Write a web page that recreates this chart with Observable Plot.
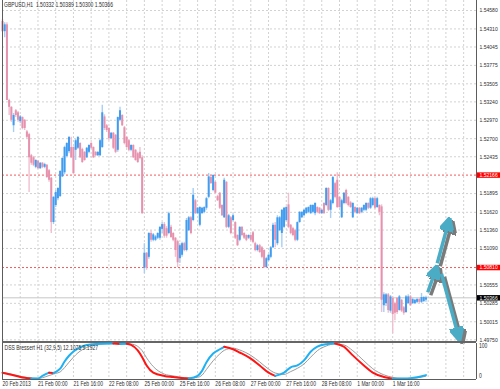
<!DOCTYPE html>
<html><head><meta charset="utf-8">
<script src="https://cdn.jsdelivr.net/npm/d3@7"></script>
<script src="https://cdn.jsdelivr.net/npm/@observablehq/plot@0.6"></script>
<style>
html,body{margin:0;padding:0;background:#fff;overflow:hidden;}
#chart{position:relative;width:500px;height:389px;overflow:hidden;background:#fff;}
#chart svg{position:absolute;overflow:visible;}
</style></head><body><div id="chart"></div>
<script>
const FONT = '"Liberation Sans", Arial, sans-serif';
const FS = 6.3;        // font size of chart texts
const FS_AXIS = 5.8;   // font size of the price scale texts (narrow right strip)
const SQUEEZE = 0.8;   // the reference font is a narrow one

const symbol = "GBPUSD,H1";
const timeLabels = ["20 Feb 2013","21 Feb 00:00","21 Feb 16:00","22 Feb 08:00","25 Feb 00:00","25 Feb 16:00","26 Feb 08:00","27 Feb 00:00","27 Feb 16:00","28 Feb 08:00","1 Mar 00:00","1 Mar 16:00"];
const timeLabelBars = [0,16,32,48,64,80,96,112,128,144,160,176];
const priceTicks = [1.54580,1.54310,1.54045,1.53775,1.53505,1.53240,1.52970,1.52700,1.52435,1.51895,1.51620,1.51360,1.51090,1.50555,1.50285,1.50015,1.49750];
const levelLines = [1.52166, 1.50810];

const open = [1.5442,1.5427,1.5437,1.5326,1.5316,1.5289,1.5311,1.5308,1.5295,1.5301,1.5297,1.5280,1.5276,1.5245,1.5242,1.5228,1.5237,1.5226,1.5234,1.5228,
1.5231,1.5223,1.5212,1.5147,1.5172,1.5182,1.5185,1.5214,1.5220,1.5244,1.5251,1.5257,1.5257,1.5253,1.5256,1.5263,1.5254,1.5250,1.5242,1.5250,
1.5263,1.5257,1.5250,1.5245,1.5245,1.5257,1.5302,1.5289,1.5285,1.5270,1.5278,1.5275,1.5253,1.5297,1.5304,1.5286,1.5272,1.5267,1.5253,1.5260,
1.5253,1.5248,1.5250,1.5242,1.5080,1.5102,1.5096,1.5131,1.5121,1.5121,1.5124,1.5124,1.5137,1.5144,1.5138,1.5131,1.5140,1.5131,1.5124,1.5119,
1.5094,1.5099,1.5116,1.5106,1.5135,1.5154,1.5150,1.5179,1.5160,1.5143,1.5160,1.5162,1.5168,1.5184,1.5213,1.5194,1.5206,1.5185,1.5190,1.5172,
1.5154,1.5206,1.5140,1.5154,1.5150,1.5147,1.5128,1.5121,1.5140,1.5131,1.5128,1.5124,1.5128,1.5132,1.5116,1.5106,1.5113,1.5110,1.5106,1.5081,
1.5091,1.5096,1.5110,1.5143,1.5116,1.5135,1.5131,1.5140,1.5150,1.5173,1.5143,1.5138,1.5135,1.5121,1.5147,1.5154,1.5157,1.5160,1.5162,1.5160,
1.5162,1.5160,1.5169,1.5168,1.5160,1.5175,1.5172,1.5197,1.5165,1.5175,1.5204,1.5209,1.5184,1.5154,1.5175,1.5194,1.5184,1.5176,1.5154,1.5169,
1.5160,1.5168,1.5162,1.5165,1.5165,1.5175,1.5168,1.5172,1.5182,1.5169,1.5172,1.5170,1.5025,1.5028,1.5041,1.5017,1.5036,1.5028,1.5036,1.5018,
1.5033,1.5022,1.5015,1.5028,1.5038,1.5028,1.5028,1.5030,1.5034,1.5030,1.5031,1.50332];
const high = [1.5445,1.5440,1.5440,1.5328,1.5317,1.5307,1.5313,1.5310,1.5304,1.5302,1.5298,1.5282,1.5278,1.5247,1.5244,1.5239,1.5238,1.5235,1.5235,1.5234,
1.5232,1.5225,1.5213,1.5185,1.5194,1.5198,1.5223,1.5242,1.5259,1.5264,1.5273,1.5272,1.5258,1.5269,1.5273,1.5264,1.5256,1.5251,1.5257,1.5261,
1.5264,1.5258,1.5251,1.5251,1.5269,1.5319,1.5305,1.5291,1.5286,1.5279,1.5279,1.5276,1.5302,1.5316,1.5305,1.5288,1.5273,1.5269,1.5261,1.5261,
1.5254,1.5250,1.5257,1.5245,1.5116,1.5103,1.5132,1.5135,1.5131,1.5128,1.5132,1.5141,1.5147,1.5147,1.5141,1.5162,1.5143,1.5132,1.5125,1.5121,
1.5116,1.5118,1.5118,1.5153,1.5156,1.5156,1.5197,1.5181,1.5169,1.5170,1.5169,1.5170,1.5184,1.5219,1.5215,1.5217,1.5207,1.5187,1.5191,1.5173,
1.5212,1.5207,1.5159,1.5156,1.5159,1.5148,1.5129,1.5141,1.5141,1.5132,1.5129,1.5129,1.5129,1.5134,1.5118,1.5115,1.5115,1.5112,1.5107,1.5096,
1.5100,1.5112,1.5146,1.5147,1.5157,1.5156,1.5166,1.5169,1.5170,1.5190,1.5144,1.5140,1.5137,1.5148,1.5163,1.5163,1.5166,1.5169,1.5170,1.5173,
1.5173,1.5176,1.5170,1.5169,1.5166,1.5176,1.5198,1.5198,1.5181,1.5215,1.5206,1.5220,1.5185,1.5181,1.5191,1.5196,1.5185,1.5178,1.5176,1.5170,
1.5169,1.5169,1.5169,1.5173,1.5176,1.5176,1.5184,1.5184,1.5184,1.5184,1.5173,1.5173,1.5044,1.5043,1.5043,1.5040,1.5038,1.5030,1.5037,1.5040,
1.5034,1.5024,1.5040,1.5041,1.5040,1.5036,1.5034,1.5036,1.5036,1.5043,1.5038,1.50389];
const low = [1.5426,1.5418,1.5326,1.5304,1.5294,1.5279,1.5301,1.5294,1.5292,1.5283,1.5282,1.5270,1.5191,1.5231,1.5229,1.5226,1.5225,1.5225,1.5226,1.5226,
1.5212,1.5206,1.5131,1.5144,1.5169,1.5179,1.5184,1.5213,1.5217,1.5242,1.5248,1.5241,1.5217,1.5238,1.5254,1.5241,1.5234,1.5237,1.5241,1.5248,
1.5254,1.5241,1.5244,1.5244,1.5244,1.5256,1.5282,1.5279,1.5267,1.5269,1.5254,1.5248,1.5250,1.5295,1.5288,1.5261,1.5256,1.5251,1.5251,1.5241,
1.5237,1.5234,1.5239,1.5159,1.5072,1.5077,1.5093,1.5118,1.5119,1.5119,1.5122,1.5121,1.5131,1.5124,1.5124,1.5129,1.5124,1.5119,1.5096,1.5081,
1.5087,1.5096,1.5104,1.5104,1.5134,1.5129,1.5148,1.5159,1.5159,1.5141,1.5159,1.5160,1.5165,1.5182,1.5203,1.5192,1.5188,1.5178,1.5166,1.5156,
1.5153,1.5138,1.5138,1.5129,1.5148,1.5122,1.5112,1.5119,1.5126,1.5122,1.5119,1.5122,1.5119,1.5116,1.5104,1.5104,1.5102,1.5094,1.5080,1.5080,
1.5090,1.5094,1.5109,1.5110,1.5113,1.5134,1.5110,1.5138,1.5148,1.5138,1.5129,1.5126,1.5119,1.5119,1.5146,1.5153,1.5156,1.5159,1.5160,1.5159,
1.5160,1.5157,1.5160,1.5159,1.5159,1.5159,1.5170,1.5163,1.5153,1.5173,1.5182,1.5168,1.5168,1.5153,1.5173,1.5173,1.5170,1.5168,1.5153,1.5160,
1.5159,1.5159,1.5160,1.5163,1.5163,1.5166,1.5166,1.5170,1.5166,1.5168,1.5157,1.5015,1.5015,1.5024,1.5014,1.5014,1.4984,1.5003,1.5012,1.5017,
1.5015,1.5011,1.5014,1.5027,1.5024,1.5027,1.5027,1.5028,1.5028,1.5028,1.5030,1.50300];
const close = [1.5427,1.5437,1.5326,1.5316,1.5297,1.5304,1.5304,1.5297,1.5302,1.5285,1.5285,1.5272,1.5242,1.5234,1.5231,1.5238,1.5226,1.5234,1.5228,1.5232,
1.5213,1.5209,1.5147,1.5184,1.5191,1.5197,1.5222,1.5241,1.5257,1.5263,1.5272,1.5242,1.5219,1.5267,1.5272,1.5242,1.5235,1.5238,1.5256,1.5260,
1.5256,1.5242,1.5245,1.5250,1.5267,1.5308,1.5285,1.5282,1.5270,1.5278,1.5256,1.5250,1.5301,1.5311,1.5289,1.5263,1.5257,1.5253,1.5260,1.5242,
1.5238,1.5235,1.5241,1.5160,1.5102,1.5080,1.5131,1.5121,1.5129,1.5126,1.5131,1.5140,1.5144,1.5127,1.5127,1.5160,1.5125,1.5121,1.5106,1.5088,
1.5113,1.5116,1.5106,1.5150,1.5154,1.5131,1.5187,1.5160,1.5168,1.5169,1.5168,1.5169,1.5182,1.5214,1.5204,1.5216,1.5190,1.5179,1.5168,1.5157,
1.5209,1.5140,1.5157,1.5131,1.5157,1.5124,1.5113,1.5140,1.5128,1.5124,1.5121,1.5128,1.5121,1.5118,1.5106,1.5113,1.5103,1.5096,1.5081,1.5094,
1.5099,1.5110,1.5143,1.5121,1.5154,1.5154,1.5165,1.5168,1.5169,1.5140,1.5131,1.5128,1.5121,1.5147,1.5162,1.5162,1.5165,1.5168,1.5169,1.5172,
1.5172,1.5175,1.5162,1.5160,1.5165,1.5160,1.5197,1.5165,1.5179,1.5213,1.5184,1.5169,1.5169,1.5179,1.5190,1.5175,1.5172,1.5169,1.5175,1.5162,
1.5168,1.5160,1.5168,1.5172,1.5175,1.5168,1.5182,1.5182,1.5168,1.5182,1.5162,1.5033,1.5041,1.5041,1.5018,1.5038,1.5012,1.5014,1.5015,1.5038,
1.5017,1.5014,1.5038,1.5038,1.5025,1.5034,1.5033,1.5034,1.5030,1.5037,1.5037,1.50366];

const dssName = "DSS Bressert H1 (32,9,5)";
const dssBars   = [0,4,8,13,16,18,21,23,24,26,28,30,32,34,38,44,50,53,56,58,61,63,65,68,73,77,82,84,88,90,92,95,98,100,104,107,112,116,120,123,127,130,133,136,139,142,146,150,154,158,163,167,172,176,180,184,187,191];
const dssMain   = [19,13,7,2.5,3,10,19,18,21,30,50,66,78,86,96,99.5,100,98.5,99.5,96,81,62,39,19,10,7,3.2,2.5,10,24,48,72,84,91,84,75,58,39,19,10,19,34,39,53,77,91,98,100,91,67,39,19,7,2.2,2.6,3.5,6,12.1075];
const dssSignal = [20,15,9,4,3,5,11,15,17,21,33,48,62,74,89,98,100,99.5,99.3,98.5,92,80,60,36,15,10,5,4,6,12,28,52,71,81,87,82,67,49,29,18,14,22,31,43,62,80,93,99,96,80,52,30,13,6,3,3,4.5,9.1927];

const arrowX1 = [191.8, 196.1, 198.0];
const arrowY1 = [1.50448, 1.50873, 1.50718];
const arrowX2 = [195.6, 201.3, 205.8];
const arrowY2 = [1.50791, 1.51490, 1.49788];

// ---- derived structures ----
const xDomain = [0, 213.8];
const yDomain = [1.49718, 1.54727];
const gridBars = d3.range(8, 214, 8);
const last = close.length - 1;
const bars = close.map((c, i) => ({i, o: open[i], h: high[i], l: low[i], c}));
const isUp = d => d.c >= d.o;
const arrows = arrowX1.map((x1, i) => ({x1, y1: arrowY1[i], x2: arrowX2[i], y2: arrowY2[i]}));
const f5 = d => d.toFixed(5);
const title = `${symbol}  ${f5(open[last])} ${f5(high[last])} ${f5(low[last])} ${f5(close[last])}`;
const dssLabel = `${dssName} ${dssMain[dssMain.length-1].toFixed(4)} ${dssSignal[dssSignal.length-1].toFixed(4)}`;

function head(color) {
  const m = d3.create("svg:marker")
    .attr("viewBox", "-7 -7 14 14")
    .attr("markerWidth", 14).attr("markerHeight", 14)
    .attr("markerUnits", "userSpaceOnUse")
    .attr("orient", "auto")
    .attr("refX", 3).attr("refY", 0);
  m.append("path").attr("fill", color).attr("d", "M-6.5,-6.5L6.5,0L-6.5,6.5Z");
  return m.node();
}

const BORDER = "#5c5c5c";
const GRID = "#d2d2d2";
const TXT = "#2e2e2e";
const baseStyle = {fontFamily: FONT, fontSize: FS + "px", background: "transparent", color: TXT, overflow: "visible"};

const mainPlot = Plot.plot({
  width: 500, height: 342,
  marginTop: 0, marginBottom: 0.5, marginLeft: 2, marginRight: 24,
  x: {domain: xDomain, axis: null},
  y: {domain: yDomain, axis: null},
  color: {type: "identity"},
  style: baseStyle,
  marks: [
    Plot.ruleY(priceTicks, {stroke: GRID, strokeDasharray: "2,2"}),
    Plot.ruleX(gridBars, {stroke: GRID, strokeDasharray: "2,2"}),
    Plot.ruleY(levelLines, {stroke: "#f05a5a", strokeDasharray: "2,2"}),
    Plot.ruleY([close[last]], {stroke: "#c6c6c6"}),
    Plot.ruleX(bars, {x: "i", y1: "l", y2: "h", stroke: d => isUp(d) ? "#a6cff6" : "#f0bfd0", strokeWidth: 1.4}),
    Plot.ruleX(bars, {x: "i", y1: "o", y2: "c", stroke: d => isUp(d) ? "#3f9cf0" : "#e691ae", strokeWidth: 2}),
    Plot.link(arrows, {x1: "x1", y1: "y1", x2: "x2", y2: "y2", stroke: "#7a7a7a", strokeWidth: 3.5, markerEnd: head, dx: 3, dy: 3, ariaLabel: "arrow-shadow"}),
    Plot.link(arrows, {x1: "x1", y1: "y1", x2: "x2", y2: "y2", stroke: "#4bacc6", strokeWidth: 3.5, markerEnd: head}),
    Plot.ruleX([xDomain[0]], {stroke: BORDER, strokeWidth: 1}),
    Plot.ruleX([xDomain[1]], {stroke: BORDER, strokeWidth: 1}),
    Plot.ruleY([yDomain[0]], {stroke: "#666", strokeWidth: 2}),
    Plot.text([title], {frameAnchor: "top-left", dx: 1.5, dy: 2, textAnchor: "start", lineAnchor: "top", fill: TXT, fontSize: FS})
  ]
});
const blurDefs = d3.select(mainPlot).insert("defs", ":first-child");
blurDefs.append("filter").attr("id", "arrowBlur").attr("x", "-50%").attr("y", "-50%").attr("width", "200%").attr("height", "200%")
  .append("feGaussianBlur").attr("stdDeviation", 1.6);
d3.select(mainPlot).selectAll('g[aria-label="arrow-shadow"]').attr("filter", "url(#arrowBlur)").attr("opacity", 0.75);

const labelPlot = Plot.plot({
  width: 24, height: 342,
  marginTop: 0, marginBottom: 0.5, marginLeft: 1, marginRight: 0,
  y: {domain: yDomain, axis: null},
  color: {type: "identity"},
  style: {...baseStyle, fontSize: FS_AXIS + "px"},
  marks: [
    Plot.text(priceTicks, {y: d => d, text: f5, frameAnchor: "left", dx: 2, textAnchor: "start", fill: TXT, fontSize: FS_AXIS}),
    Plot.ruleY(levelLines, {stroke: "#ff0000", strokeWidth: 5.5}),
    Plot.text(levelLines, {y: d => d, text: f5, frameAnchor: "left", dx: 2, textAnchor: "start", fill: "#fff", fontSize: FS_AXIS}),
    Plot.ruleY([close[last]], {stroke: "#000", strokeWidth: 5.5}),
    Plot.text([close[last]], {y: d => d, text: f5, frameAnchor: "left", dx: 2, textAnchor: "start", fill: "#fff", fontSize: FS_AXIS})
  ]
});

const oscPts = dssBars.map((b, i) => ({b, m: dssMain[i], s: dssSignal[i]}));
const runs = [];
let runId = 0, prevCol = null;
for (let k = 1; k < oscPts.length; k++) {
  const col = oscPts[k].m < oscPts[k-1].m ? "#ff1414" : "#1eb0f2";
  if (col !== prevCol) { runId++; runs.push({...oscPts[k-1], run: runId, col}); }
  runs.push({...oscPts[k], run: runId, col});
  prevCol = col;
}

const oscPlot = Plot.plot({
  width: 500, height: 47,
  marginTop: 1, marginBottom: 10, marginLeft: 2, marginRight: 24,
  x: {domain: xDomain, axis: null},
  y: {domain: [0, 100], axis: null},
  color: {type: "identity"},
  style: baseStyle,
  marks: [
    Plot.ruleX(gridBars, {stroke: GRID, strokeDasharray: "2,2"}),
    Plot.line(oscPts, {x: "b", y: "s", stroke: "#9c9c9c", strokeWidth: 1, curve: "monotone-x"}),
    Plot.line(runs, {x: "b", y: "m", z: "run", stroke: "col", strokeWidth: 2, curve: "monotone-x"}),
    Plot.ruleX([xDomain[0]], {stroke: BORDER}),
    Plot.ruleX([xDomain[1]], {stroke: BORDER}),
    Plot.ruleY([0], {stroke: BORDER}),
    Plot.text([dssLabel], {frameAnchor: "top-left", dx: 2, dy: 2, textAnchor: "start", lineAnchor: "top", fill: TXT, fontSize: FS}),
    Plot.text([100], {y: d => d, text: d => String(d), frameAnchor: "right", dx: 2.5, textAnchor: "start", lineAnchor: "top", fill: TXT, fontSize: FS}),
    Plot.text([0], {y: d => d, text: d => String(d), frameAnchor: "right", dx: 2.5, dy: -1.5, textAnchor: "start", lineAnchor: "bottom", fill: TXT, fontSize: FS}),
    Plot.text(timeLabelBars, {x: d => d, text: (d, i) => timeLabels[i], frameAnchor: "bottom", dy: 2.5, textAnchor: "start", lineAnchor: "top", fill: TXT, fontSize: FS})
  ]
});

const chart = document.getElementById("chart");
mainPlot.style.left = "0px"; mainPlot.style.top = "0px";
labelPlot.style.left = "476px"; labelPlot.style.top = "0px";
oscPlot.style.left = "0px"; oscPlot.style.top = "342px";
chart.append(mainPlot, labelPlot, oscPlot);

// narrow the glyphs like the reference's condensed terminal font
for (const svg of [mainPlot, labelPlot, oscPlot]) {
  const k = svg === labelPlot ? SQUEEZE * FS / FS_AXIS : SQUEEZE;
  for (const t of svg.querySelectorAll("text")) {
    const w = t.getComputedTextLength();
    if (w > 0) {
      t.setAttribute("textLength", (w * Math.min(1, k)).toFixed(2));
      t.setAttribute("lengthAdjust", "spacingAndGlyphs");
    }
  }
}
</script>
</body></html>
